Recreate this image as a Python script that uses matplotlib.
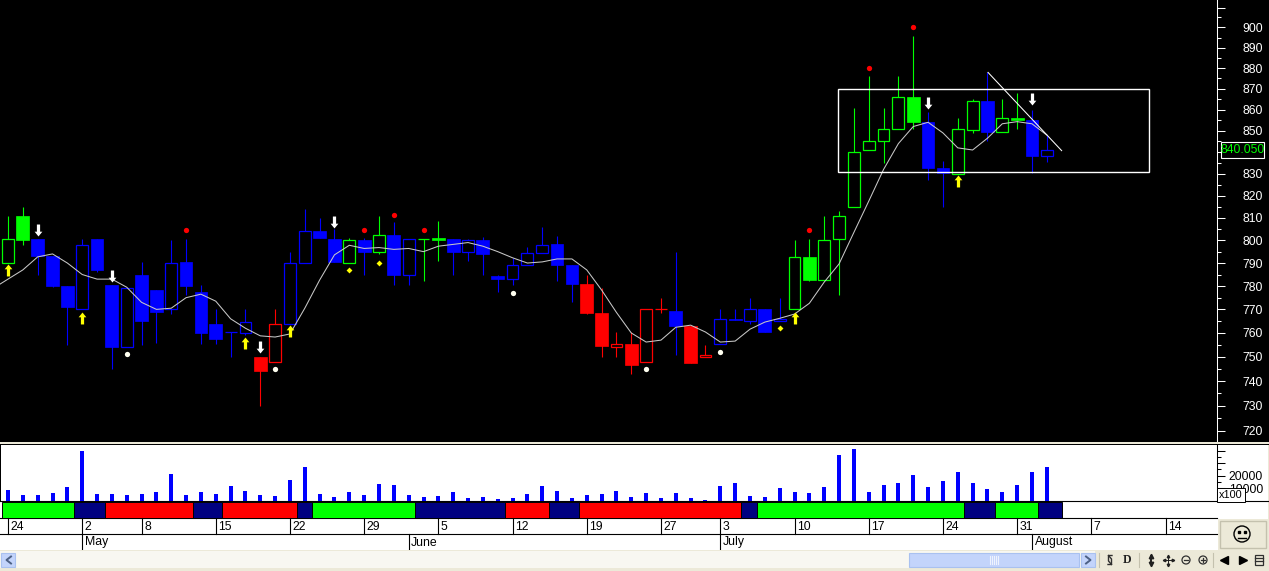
import numpy as np
import matplotlib
matplotlib.use("Agg")
import matplotlib.pyplot as plt
from matplotlib.path import Path
from matplotlib.patches import Rectangle, Circle
from matplotlib.ticker import FixedLocator, FixedFormatter, NullFormatter

# daily prices, one entry per session
opens = [790, 811, 800.5, 793, 780, 770, 800.5, 780.5, 754, 785, 778.5, 770, 790.5, 777.5, 764, 760.5, 760, 750,
         748, 764, 790, 804, 800.5, 790, 800, 795, 802.5, 785, 800.5, 801, 800.5, 795, 800, 784.5, 783, 789,
         794.5, 798.5, 789, 781, 768.5, 754, 755.5, 748, 770, 769.5, 763, 750, 755.5, 766, 765, 770, 765, 770,
         792.5, 782.5, 800.5, 815, 841, 845, 851, 866, 854, 832.5, 830, 850.5, 864, 849.5, 856, 855, 838]
closes = [800.5, 800, 793, 780, 771, 798, 787, 754, 779, 765, 769, 790, 780, 760, 757.5, 760.5, 764.5, 744,
          764, 790, 804, 801, 790.5, 800, 795, 802.5, 785, 800.5, 800.5, 800, 795, 800, 794, 783, 789, 794.5,
          798, 789, 781, 768.5, 754.5, 755.5, 746.5, 770, 770, 763, 747.5, 751, 766, 765.5, 770, 760.5, 766,
          792.5, 782.5, 800, 811, 840, 845, 851, 866, 854, 832.5, 830.5, 851, 864, 849.5, 856, 855, 838, 841]
highs = [811, 815, 800.5, 793, 780, 800.5, 800.5, 780.5, 779, 790.5, 778.5, 800, 800.5, 780.5, 770, 760.5, 770, 750,
         770, 795, 814, 810, 805, 801, 801, 811, 808, 800.5, 800.5, 808.5, 800.5, 800.5, 801.5, 785, 792, 797,
         806, 802, 789, 785, 779, 760.5, 760.5, 770, 775, 795, 763, 755, 770, 770, 775, 770, 775, 800,
         800.5, 811, 813, 861, 876, 861, 876, 896, 859, 836, 856, 865, 878, 865, 868, 860, 848]
lows = [790, 798, 785, 779.5, 755, 770, 786, 745, 754, 755, 756, 768, 776, 755.5, 755.5, 750, 759, 730,
        748, 764, 790, 801, 790.5, 790, 785, 794, 780.5, 780.5, 782, 791, 785, 791, 785, 777.5, 780.5, 789,
        794.5, 782, 773, 768, 750, 750, 743, 748, 768.5, 751, 747.5, 750, 755.5, 765.5, 764, 760.5, 765, 770,
        782, 782.5, 776, 815, 841, 835, 851, 851, 827, 815, 830, 849, 845, 849.5, 851, 830.5, 835.5]
trend = list("gg bbbbbbbbbbbbbbb rr bbbb g b g bb gg bbbbbbbbb rrrrrr b rr bbbbb ggggggggg bb gg b gg bb".replace(" ", ""))

# moving average, the first value belongs to the session before the chart
ma_line = [779, 783, 787, 792.7, 794, 790, 785, 783, 783, 779.5, 773, 770, 770.5, 775, 776.5, 773.5, 766, 762, 758.8,
           758.3, 759.6, 770.5, 782.6, 793.6, 797.8, 796.4, 796.8, 796, 796.4, 795, 797.4, 798.2, 799, 797.4, 795,
           792.3, 790, 790.5, 791.8, 791.8, 787, 778.3, 768.7, 760, 756.2, 757, 762.4, 763.3, 760.4, 756.2, 756.6,
           761.6, 764.6, 766.2, 768, 772.6, 781.7, 789.6, 803.5, 817.5, 832, 844, 852, 854, 849, 842, 841, 846.5,
           853.3, 854.3, 853.3, 848]

volume = [9000, 5000, 5000, 6600, 11400, 40000, 5800, 5800, 5000, 5800, 7400, 21700, 5000, 7400, 5800, 12200, 8200,
          5000, 4200, 16900, 27200, 5800, 3400, 7400, 5000, 13800, 13000, 5000, 3400, 4200, 7400, 2600, 3400, 1900,
          2600, 5800, 12200, 8200, 2600, 5000, 5800, 8200, 3400, 6600, 2600, 6600, 2600, 1000, 12200, 14600, 4200,
          3400, 10600, 7400, 6600, 11400, 36800, 41600, 7400, 13000, 14600, 20900, 11400, 16100, 23300, 14600, 9800,
          7400, 13000, 23300, 27200]

# signals on the price pane
arrow_down_idx = [2, 7, 17, 22, 62, 69]
arrow_down_px = [804.5, 784.3, 754, 808, 863, 865]
arrow_up_idx = [0, 5, 16, 19, 53, 64]
arrow_up_px = [787, 766.5, 755.8, 760.8, 766.4, 826.5]
white_dot_idx = [8, 18, 34, 43, 48]
white_dot_px = [751.2, 745, 777, 745, 752]
red_dot_idx = [12, 24, 26, 28, 54, 58, 61]
red_dot_px = [804.5, 804.5, 811.3, 804.5, 804.5, 880, 900]
diamond_idx = [23, 25, 52]
diamond_px = [787, 790, 762]

# drawn objects on the price pane
box_idx = [55.93, 76.9]
box_px = [831, 870]
trend_idx = [66.04, 71.0]
trend_px = [877.9, 840.7]
last_price = 840.05

band_edges = [-0.4, 4.45, 6.54, 12.47, 14.42, 19.47, 20.5, 27.4, 33.5, 36.45, 38.5, 49.4, 50.5, 64.4, 66.5, 69.4, 71.0]
band_states = ["g", "n", "r", "n", "r", "n", "g", "n", "r", "n", "r", "n", "g", "n", "g", "n"]

date_idx = [0, 5, 9, 14, 19, 24, 29, 34, 39, 44, 48, 53, 58, 63, 68, 73, 78]
date_labels = ["24", "2", "8", "15", "22", "29", "5", "12", "19", "27", "3", "10", "17", "24", "31", "7", "14"]
month_idx = [5, 27, 48, 69]
month_labels = ["May", "June", "July", "August"]

price_ticks = list(range(720, 911, 10))
price_labels = [str(p) if p not in (840, 910) else "" for p in price_ticks]
vol_ticks = [10000, 20000, 30000, 40000]
vol_labels = ["10000", "20000", "", ""]

W, H = 1269, 571
FONT = "Liberation Sans"
colors = {"g": "#00ff00", "b": "#0000ff", "r": "#ff0000", "n": "#000080"}
BEIGE = "#ece9d8"


def px_axes(x0, y0, x1, y1, **kw):
    return fig.add_axes([x0 / W, 1 - y1 / H, (x1 - x0) / W, (y1 - y0) / H], **kw)


fig = plt.figure(figsize=(W / 100, H / 100), dpi=100, facecolor="white")
plt.rcParams["font.family"] = FONT
xlim = (-8 / 14.84, (1217 - 8) / 14.84)

# window chrome in pixel coordinates
bg = px_axes(0, 0, W, H, zorder=0)
bg.set_xlim(0, W)
bg.set_ylim(H, 0)
bg.axis("off")
bg.add_patch(Rectangle((0, 0), W, 442, fc="black", ec="none"))
bg.add_patch(Rectangle((0, 442), W, 2, fc=BEIGE, ec="none"))
bg.add_patch(Rectangle((0, 444), W, 1.2, fc="black", ec="none"))
bg.add_patch(Rectangle((0, 445), W - 1.5, 105, fc="white", ec="none"))
bg.add_patch(Rectangle((W - 1.5, 445), 1.5, 105, fc=BEIGE, ec="none"))
bg.add_patch(Rectangle((0, 445), 1.2, 56, fc="black", ec="none"))
bg.add_patch(Rectangle((0, 550), W, 21, fc=BEIGE, ec="none"))
bg.add_patch(Rectangle((0, 551), 1095, 17, fc="#f8f7f1", ec="none"))
bg.add_patch(Rectangle((1218, 519), 51, 31, fc=BEIGE, ec="none"))
bg.add_patch(Rectangle((1219.5, 521), 46, 27, fc=BEIGE, ec="#c4c1ae", lw=1))
bg.plot([0, W - 1.5], [501, 501], color="black", lw=0.8)
bg.plot([0, 1217], [518, 518], color="black", lw=0.8)
bg.plot([0, 1217], [534, 534], color="black", lw=0.8)

# scrollbar
for x0, x1 in [(1, 15), (909, 1079), (1081, 1095)]:
    bg.add_patch(Rectangle((x0, 553), x1 - x0, 14, fc="#c3d4fb", ec="#a9c1f0", lw=0.8))
bg.plot([11, 6.5, 11], [556.5, 560, 563.5], color="#4d6185", lw=1.4)
bg.plot([1086, 1090.5, 1086], [556.5, 560, 563.5], color="#4d6185", lw=1.4)
for gx in range(990, 999, 2):
    bg.plot([gx, gx], [556, 564], color="#eef3fe", lw=0.8)

# toolbar
for sx in [1099, 1139, 1213]:
    bg.plot([sx, sx], [553, 567], color="#c4c1ae", lw=0.8)
bg.plot([1112, 1108.5, 1108.5, 1111.5], [555.5, 555.5, 561, 564.5], color="#303030", lw=1)
bg.plot([1108, 1111.5, 1111.5, 1108.5], [564.5, 564.5, 559, 555.5], color="#303030", lw=1)
bg.text(1127, 560, "D", family="Liberation Serif", weight="bold", fontsize=8.5, ha="center", va="center", color="#202020")
bg.plot([1151, 1151], [556, 564], color="#202020", lw=1.4)
bg.plot([1151], [556], marker="^", ms=3.2, color="#202020")
bg.plot([1151], [564], marker="v", ms=3.2, color="#202020")
bg.plot([1163, 1173], [560, 560], color="#202020", lw=0.7)
bg.plot([1168, 1168], [555, 565], color="#202020", lw=0.7)
for mx, my, mk in [(1163.5, 560, "<"), (1172.5, 560, ">"), (1168, 555.5, "^"), (1168, 564.5, "v")]:
    bg.plot([mx], [my], marker=mk, ms=1.8, color="#202020")
for cx in [1186, 1203]:
    bg.add_patch(Circle((cx, 560), 4, fc="none", ec="#303030", lw=0.9))
    bg.plot([cx - 2, cx + 2], [560, 560], color="#303030", lw=0.9)
bg.plot([1203, 1203], [558, 562], color="#303030", lw=0.9)
bg.plot([1224], [560], marker="<", ms=6, color="black")
bg.plot([1243], [560], marker=">", ms=6, color="black")
bg.add_patch(Rectangle((1255, 555), 8, 10, fc="none", ec="#303030", lw=0.9))
bg.plot([1255, 1263], [558, 558], color="#303030", lw=0.9)
bg.plot([1255, 1263], [561, 561], color="#303030", lw=0.9)

# smiley
bg.add_patch(Circle((1242, 534), 8, fc="none", ec="black", lw=1))
bg.plot([1239, 1245], [531.5, 531.5], ls="none", marker="s", ms=1.5, color="black")
bg.plot([1238, 1246], [537.5, 537.5], color="black", lw=1)

# price pane
ax = px_axes(0, 0, 1217, 441, zorder=2)
ax.set_facecolor("black")
ax.set_yscale("log")
ax.set_xlim(xlim)
ax.set_ylim(715.9, 913.8)
for k in range(len(opens)):
    c = colors[trend[k]]
    ax.vlines(k, lows[k], highs[k], color=c, lw=0.8, zorder=2)
    top = max(opens[k], closes[k])
    bot = min(opens[k], closes[k])
    if closes[k] >= opens[k]:
        ax.bar(k, top - bot, bottom=bot, width=0.8, facecolor="black", edgecolor=c, lw=0.9, zorder=3)
    else:
        ax.bar(k, top - bot, bottom=bot, width=0.86, facecolor=c, edgecolor=c, lw=0.5, zorder=3)
ax.plot(np.arange(-1, len(ma_line) - 1), ma_line, color="#c8c8c8", lw=0.75, zorder=4)
ax.plot(trend_idx, trend_px, color="white", lw=0.75, zorder=5)
ax.add_patch(Rectangle((box_idx[0], box_px[0]), box_idx[1] - box_idx[0], box_px[1] - box_px[0],
                       fc="none", ec="white", lw=1, zorder=5))

arrow_up = Path([(-0.27, -1), (0.27, -1), (0.27, 0.2), (0.65, 0.2), (0, 1), (-0.65, 0.2), (-0.27, 0.2), (-0.27, -1)], closed=True)
arrow_down = Path([(-0.27, 1), (0.27, 1), (0.27, -0.2), (0.65, -0.2), (0, -1), (-0.65, -0.2), (-0.27, -0.2), (-0.27, 1)], closed=True)
ax.plot(arrow_up_idx, arrow_up_px, ls="none", marker=arrow_up, ms=8.6, color="#ffff00", mew=0, zorder=6)
ax.plot(arrow_down_idx, arrow_down_px, ls="none", marker=arrow_down, ms=8.6, color="white", mew=0, zorder=6)
ax.plot(white_dot_idx, white_dot_px, ls="none", marker="o", ms=3.8, color="#fffff0", mew=0, zorder=6)
ax.plot(red_dot_idx, red_dot_px, ls="none", marker="o", ms=3.8, color="#ff0000", mew=0, zorder=6)
ax.plot(diamond_idx, diamond_px, ls="none", marker="D", ms=3, color="#ffff00", mew=0, zorder=6)

ax.set_xticks([])
ax.yaxis.tick_right()
ax.yaxis.set_major_locator(FixedLocator(price_ticks))
ax.yaxis.set_major_formatter(FixedFormatter(price_labels))
ax.yaxis.set_minor_locator(FixedLocator([p + 5 for p in price_ticks]))
ax.yaxis.set_minor_formatter(NullFormatter())
ax.tick_params(axis="y", which="major", length=5.8, width=0.75, color="white", labelcolor="white", pad=27.4, labelsize=8.8)
ax.tick_params(axis="y", which="minor", length=2.6, width=0.75, color="white")
for lab in ax.get_yticklabels():
    lab.set_ha("right")
for s in ["top", "left", "bottom"]:
    ax.spines[s].set_visible(False)
ax.spines["right"].set_color("white")
ax.spines["right"].set_linewidth(0.75)
ax.add_patch(Rectangle((1221, 142), 43, 16, transform=bg.transData, fc="black", ec="white", lw=0.8, zorder=9, clip_on=False))
ax.text(1242.5, 150, "%.3f" % last_price, transform=bg.transData, color="#00ff00", fontsize=8.8, ha="center", va="center",
        zorder=10, clip_on=False)

# volume pane
vol = px_axes(0, 445, 1217, 501, zorder=2)
vol.patch.set_alpha(0)
vol.set_xlim(xlim)
vol.set_ylim(0, 44444)
vol.bar(range(len(volume)), volume, width=0.27, color="#0000ff")
vol.set_xticks([])
vol.yaxis.tick_right()
vol.yaxis.set_major_locator(FixedLocator(vol_ticks))
vol.yaxis.set_major_formatter(FixedFormatter(vol_labels))
vol.yaxis.set_minor_locator(FixedLocator([t - 5000 for t in vol_ticks]))
vol.tick_params(axis="y", which="major", length=5.8, width=0.75, pad=27.4, labelsize=8.8)
vol.tick_params(axis="y", which="minor", length=2.6, width=0.75)
for lab in vol.get_yticklabels():
    lab.set_ha("right")
for s in ["top", "left", "bottom"]:
    vol.spines[s].set_visible(False)
vol.spines["right"].set_linewidth(0.75)
vol.text(1231, 495.2, "x100", transform=bg.transData, fontsize=7.8, ha="center", va="center", zorder=10, clip_on=False,
         bbox=dict(fc="white", ec="black", lw=0.7, boxstyle="square,pad=0.2"))

# state band and date rows, y runs in pixels below the volume pane
rows = px_axes(0, 501, 1217, 550, zorder=1)
rows.patch.set_alpha(0)
rows.axis("off")
rows.set_xlim(xlim)
rows.set_ylim(550, 501)
for k in range(len(band_states)):
    rows.add_patch(Rectangle((band_edges[k], 501.5), band_edges[k + 1] - band_edges[k], 16.5,
                             fc=colors[band_states[k]], ec="black", lw=0.7))
for d, lab in zip(date_idx, date_labels):
    rows.plot([d, d], [518, 534], color="black", lw=0.8)
    rows.text(d + 0.17, 526.5, lab, fontsize=8.8, ha="left", va="center", color="black")
for d, lab in zip(month_idx, month_labels):
    rows.plot([d, d], [534, 550], color="black", lw=0.8)
    rows.text(d + 0.17, 542.5, lab, fontsize=8.8, ha="left", va="center", color="black")

fig.savefig("out.png", dpi=100, facecolor=fig.get_facecolor())
